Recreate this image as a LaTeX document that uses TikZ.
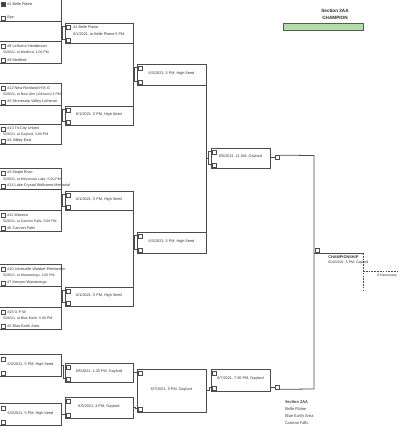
\documentclass[tikz,border=0pt]{standalone}
\usepackage{fontspec}
\setmainfont{Liberation Sans}
\newfontfamily\listfont{Carlito}
\usepackage{xcolor}
\usetikzlibrary{fit,calc}
\definecolor{champgreen}{HTML}{B3DEA5}

\begin{document}
\begin{tikzpicture}[
    x=0.025cm, y=-0.025cm,
    line/.style={draw=black!70, line width=0.55pt},
    cb/.style={draw=black!70, line width=0.45pt, fill=white, minimum size=0.1cm, inner sep=0pt},
    slot/.style={inner sep=0pt, font=\fontsize{2.7}{3}\selectfont, text=black!80,
        append after command={\pgfextra{\let\slotnode=\tikzlastnode}
            (\slotnode.north west) node[cb, anchor=north west, xshift=1.2pt, yshift=-1.4pt] {}
            (\slotnode.south west) node[cb, anchor=south west, xshift=1.2pt, yshift=0.8pt] {}}},
    game/.style={slot, line},
    team/.style={anchor=west, inner sep=0pt, font=\fontsize{2.7}{3}\selectfont, text=black!80},
    when/.style={team, font=\fontsize{2.5}{3}\selectfont},
    head/.style={team, font=\bfseries\fontsize{2.75}{3}\selectfont},
    title/.style={align=center, inner sep=0pt, font=\bfseries\fontsize{3.3}{5}\selectfont, text=black!85}
]
\useasboundingbox (0,0) rectangle (400,427);

% first round
\node[slot, fit={(0,0) (61,21)}] (m1) {};
\node[slot, fit={(0,42) (61,63)}] (m2) {};
\node[slot, fit={(0,84) (61,105)}] (m3) {};
\node[slot, fit={(0,125) (61,144)}] (m4) {};
\node[slot, fit={(0,169) (61,189)}] (m5) {};
\node[slot, fit={(0,211) (61,231)}] (m6) {};
\node[slot, fit={(0,265) (61,286)}] (m7) {};
\node[slot, fit={(0,308) (61,329)}] (m8) {};
\draw[line] (m1.north west) -- (m1.north east) -- (m2.south east) -- (m2.south west)
    (m1.south west) -- (m1.south east) (m2.north west) -- (m2.north east);
\draw[line] (m3.north west) -- (m3.north east) -- (m4.south east) -- (m4.south west)
    (m3.south west) -- (m3.south east) (m4.north west) -- (m4.north east);
\draw[line] (m5.north west) -- (m5.north east) -- (m6.south east) -- (m6.south west)
    (m5.south west) -- (m5.south east) (m6.north west) -- (m6.north east);
\draw[line] (m7.north west) -- (m7.north east) -- (m8.south east) -- (m8.south west)
    (m7.south west) -- (m7.south east) (m8.north west) -- (m8.north east);
\node[cb, fill=black!75] at (3.7,4) {};

\node[team] at (7,4) {\#1 Belle Plaine};
\node[team] at (7,18) {Bye};
\node[team] at (7,46) {\#8 LeSueur-Henderson};
\node[when] at (3,52.5) {5/28/21, at Medford, 1:00 PM};
\node[team] at (7,60) {\#9 Medford};
\node[team] at (7,88) {\#12 New Richland-H-E-G};
\node[when] at (3,94.5) {5/28/21, at New Ulm (Johnson) 3 PM};
\node[team] at (7,102) {\#5 Minnesota Valley Lutheran};
\node[team] at (7,129) {\#13 Tri-City United};
\node[when] at (3,134.5) {5/28/21, at Gaylord, 3:00 PM};
\node[team] at (7,141) {\#4 Sibley East};
\node[team] at (7,173) {\#3 Maple River};
\node[when] at (3,179) {5/28/21, at Minnesota Lake, 5:00 PM};
\node[team] at (7,186) {\#14 Lake Crystal Wellcome Memorial};
\node[team] at (7,215) {\#11 Waseca};
\node[when] at (3,221) {5/28/21, at Cannon Falls, 5:00 PM};
\node[team] at (7,228) {\#6 Cannon Falls};
\node[team] at (7,269) {\#10 Janesville-Waldorf-Pemberton};
\node[when] at (3,275.5) {5/28/21, at Wanamingo, 1:00 PM};
\node[team] at (7,283) {\#7 Kenyon-Wanamingo};
\node[team] at (7,312) {\#15 G-F-W};
\node[when] at (3,318.5) {5/28/21, at Blue Earth, 5:00 PM};
\node[team] at (7,326) {\#2 Blue Earth Area};

% quarterfinals, semis
\node[game, fit={(65,23) (133,43)}] (q1) {};
\node[team] at (73,27) {\#1 Belle Plaine};
\node[team] at (73,34) {6/1/2021, at Belle Plaine 5 PM};
\node[game, fit={(65,106) (133,125)}] (q2) {6/1/2021, 5 PM, High Seed};
\node[game, fit={(65,191) (133,210)}] (q3) {6/1/2021, 5 PM, High Seed};
\node[game, fit={(65,287) (133,306)}] (q4) {6/1/2021, 5 PM, High Seed};
\node[game, fit={(137,64) (206,85)}] (t1) {6/3/2021, 5 PM, High Seed};
\node[game, fit={(137,232) (206,253)}] (t2) {6/3/2021, 5 PM, High Seed};
\node[game, fit={(211,148) (270,168)}] (s1) {6/5/2021, 11 AM, Gaylord};

\draw[line] (q1.north east) -- (q2.south east) (q3.north east) -- (q4.south east);
\draw[line] (t1.north east) -- (t2.south east);
\draw[line] (m1.east |- q1.west) -- ++(2,0) ($(q1.north west)+(0,4)$) -- ++(-2,0) |- ($(q1.south west)+(0,-4)$);
\draw[line] (m3.east |- q2.west) -- ++(2,0) ($(q2.north west)+(0,4)$) -- ++(-2,0) |- ($(q2.south west)+(0,-4)$);
\draw[line] (m5.east |- q3.west) -- ++(2,0) ($(q3.north west)+(0,4)$) -- ++(-2,0) |- ($(q3.south west)+(0,-4)$);
\draw[line] (m7.east |- q4.west) -- ++(2,0) ($(q4.north west)+(0,4)$) -- ++(-2,0) |- ($(q4.south west)+(0,-4)$);
\draw[line] (q1.east |- t1.west) -- ++(2,0) ($(t1.north west)+(0,4)$) -- ++(-2,0) |- ($(t1.south west)+(0,-4)$);
\draw[line] (q3.east |- t2.west) -- ++(2,0) ($(t2.north west)+(0,4)$) -- ++(-2,0) |- ($(t2.south west)+(0,-4)$);
\draw[line] (t1.east |- s1.west) -- ++(2.5,0) ($(s1.north west)+(0,4)$) -- ++(-2.5,0) |- ($(s1.south west)+(0,-4)$);

% back bracket
\node[slot, fit={(0,355) (61,376)}] (c1) {6/3/2021, 5 PM, High Seed};
\node[slot, fit={(0,404) (61,425)}] (c2) {6/3/2021, 5 PM, High Seed};
\node[game, fit={(65,363) (133,382)}] (c3) {6/5/2021, 1:30 PM, Gaylord};
\node[game, fit={(65,397) (133,418)}] (c4) {6/5/2021, 4 PM, Gaylord};
\node[game, fit={(137,369) (206,412)}] (c5) {6/7/2021, 5 PM, Gaylord};
\node[game, fit={(211,369) (270,391)}] (c6) {6/7/2021, 7:30 PM, Gaylord};
\draw[line] (c1.north west) -- (c1.north east) -- (c1.south east) -- (c1.south west);
\draw[line] (c2.north west) -- (c2.north east) -- (c2.south east) -- (c2.south west);
\draw[line] (c1.east) -- ++(2,0) |- ($(c3.south west)+(0,-4)$);
\draw[line] (c2.east) -- ++(2,0) |- ($(c4.south west)+(0,-4)$);
\draw[line] (c3.east) -- ++(2,0) |- ($(c5.north west)+(0,4)$);
\draw[line] (c4.east) -- ++(2,0) |- ($(c5.south west)+(0,-4)$);
\draw[line] (c5.east) -- ++(2.5,0) |- ($(c6.south west)+(0,-4)$);

% final
\node[cb] (k1) at (277.5,157.5) {};
\node[cb] (k2) at (277.5,387) {};
\draw[line] (s1.east |- k1) -- (k1.west);
\draw[line] (c6.east |- k2) -- (k2.west);
\coordinate (ftop) at (314,155.5);
\coordinate (fbot) at (314,389);
\draw[line] (k1.north east) -- (ftop) -- (fbot) -- (k2.south east);
\node[cb, anchor=south west] (k3) at (314.5,253) {};
\coordinate (fin) at (363,253);
\coordinate (ifn) at (400,271);
\draw[line] (ftop |- k3.south) -- (fin);
\draw[line, dash pattern=on 1.2pt off 0.8pt] (fin) -- ++(0,37) (fin |- ifn) -- (ifn);
\node[head] (chs) at (328,257) {CHAMPIONSHIP};
\node[when] at (328,263) {6/10/2021, 5 PM, Gaylord};
\node[when] at (377,276) {If Necessary};

% champion
\node[title] (sec) at (335,14.5) {Section 2AA\\CHAMPION};
\node[draw=black!65, line width=0.6pt, fill=champgreen, inner sep=0pt, fit={(283,23) (363,30)}] (champ) {};
\node[anchor=west, align=left, inner sep=0pt, font=\listfont\fontsize{3.2}{5}\selectfont, text=black!75] (sect) at (285,412.5)
    {\textbf{Section 2AA}\\Belle Plaine\\Blue Earth Area\\Cannon Falls};
\end{tikzpicture}
\end{document}
